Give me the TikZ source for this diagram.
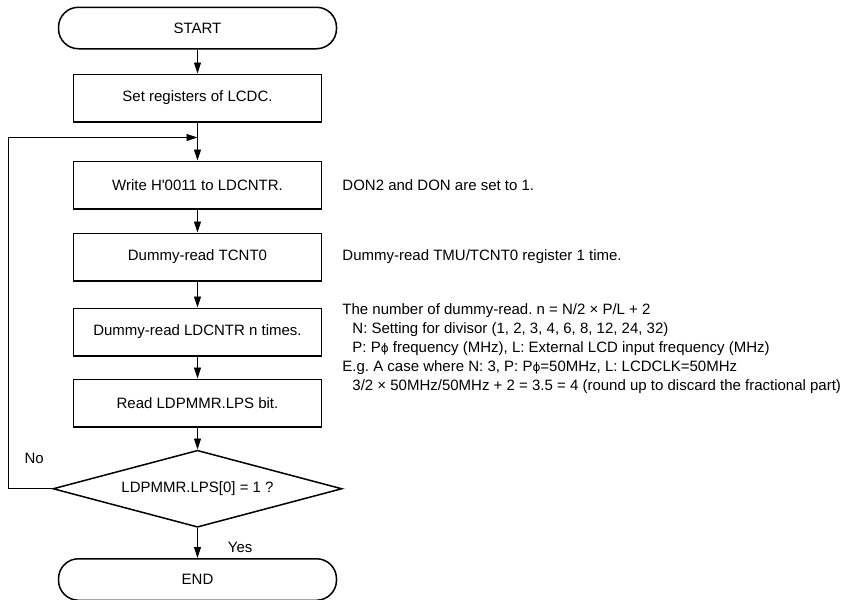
\documentclass[tikz,border=0pt]{standalone}
\usepackage{fontspec}
\setmainfont{Liberation Sans}[Ligatures=TeXOff]
\newfontfamily\phifont{DejaVu Sans}
\newcommand{\Pphi}{P{\phifont\fontsize{12}{19}\selectfont ϕ}}
\usetikzlibrary{arrows.meta, positioning, calc, shapes.geometric}
\frenchspacing

\begin{document}
\begin{tikzpicture}[
    >={Triangle[length=11pt,width=7pt]},
    font=\fontsize{15}{19}\selectfont,
    % --- block styles ---
    terminal/.style={
      draw, rectangle, rounded corners=20pt,
      minimum width=278pt, minimum height=41.5pt,
      line width=1.5pt},
    process/.style={
      draw, rectangle,
      minimum width=248pt, minimum height=47.5pt,
      line width=1.5pt},
    decision/.style={
      draw, diamond, aspect=3.8, inner sep=0pt,
      minimum width=289pt, minimum height=77pt,
      line width=1.5pt},
    note/.style={inner sep=0pt, align=left},
    lbl/.style={inner sep=0pt},
    arr/.style={->, line width=0.9pt},
  ]
  \useasboundingbox (0,0) rectangle (855pt,-600pt);

  % ── Main flow ──
  \node[terminal] (start) at (197.5pt,-28pt) {START};
  \node[process, below=24pt of start]  (setreg)   {Set registers of LCDC.};
  \node[process, below=38pt of setreg] (write)    {Write H'0011 to LDCNTR.};
  \node[process, below=23pt of write]  (dummytcnt) {Dummy-read TCNT0};
  \node[process, below=26pt of dummytcnt] (dummyldc) {Dummy-read LDCNTR n times.};
  \node[process, below=22pt of dummyldc] (readlps) {Read LDPMMR.LPS bit.};
  \node[decision, below=22pt of readlps] (check)  {LDPMMR.LPS[0] = 1 ?};
  \node[terminal, below=30pt of check]  (finish)  {END};

  % ── Notes on the right ──
  \node[note, right=20pt of write] (donnote) {DON2 and DON are set to 1.};
  \node[note, right=20pt of dummytcnt] (tmunote)
    {Dummy-read TMU/TCNT0 register 1 time.};
  \node[note, anchor=north west] (formula)
    at ($(dummyldc.north east)+(20pt,4pt)$)
    {The number of dummy-read. n = N/2 × P/L + 2\\
     \hspace*{10pt}N: Setting for divisor (1, 2, 3, 4, 6, 8, 12, 24, 32)\\
     \hspace*{10pt}P: \Pphi{} frequency (MHz), L: External LCD input frequency (MHz)\\
     E.g. A case where N: 3, P: \Pphi=50MHz, L: LCDCLK=50MHz\\
     \hspace*{10pt}3/2 × 50MHz/50MHz + 2 = 3.5 = 4 (round up to discard the fractional part)};

  % ── Flow arrows ──
  \coordinate[below=15pt of setreg.south] (merge);
  \draw[arr] (start) -- (setreg);
  \draw[arr] (setreg) -- (write);
  \draw[arr] (write) -- (dummytcnt);
  \draw[arr] (dummytcnt) -- (dummyldc);
  \draw[arr] (dummyldc) -- (readlps);
  \draw[arr] (readlps) -- (check);
  \draw[arr] (check) -- node[lbl, right=30pt, yshift=-4pt] (yes) {Yes} (finish);

  % ── Loop back when not set ──
  \draw[arr] (check.west) -- ++(-44pt,0) |- (merge);
  \node[lbl] (no) at ($(check.west)+(-18pt,30pt)$) {No};

\end{tikzpicture}
\end{document}
